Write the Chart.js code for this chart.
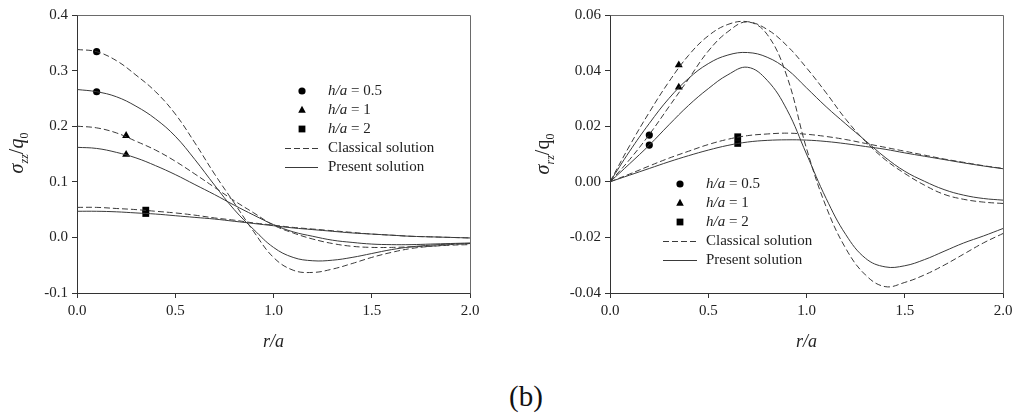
<!DOCTYPE html>
<html>
<head>
<meta charset="utf-8">
<script src="https://cdn.jsdelivr.net/npm/chart.js@4.4.1/dist/chart.umd.min.js"></script>
<style>
    body { margin: 0; width: 1018px; height: 414px; background: #fff; position: relative; overflow: hidden; }
    .panel { position: absolute; top: 0; }
    #leftPanel { left: 0; }
    #rightPanel { left: 509px; }
    #figLabel {
        position: absolute; left: 509px; top: 380px;
        font-family: "Liberation Serif", "Times New Roman", serif; font-size: 29px; color: #111;
    }
</style>
</head>
<body>
<div class="panel" id="leftPanel"><canvas id="szzChart" width="509" height="370"></canvas></div>
<div class="panel" id="rightPanel"><canvas id="srzChart" width="509" height="370"></canvas></div>
<div id="figLabel">(b)</div>

<script>
// r/a sample points shared by all curves
const rOverA = [0.0, 0.1, 0.2, 0.3, 0.4, 0.5, 0.6, 0.7, 0.8, 0.9, 1.0,
                1.1, 1.2, 1.3, 1.4, 1.5, 1.6, 1.7, 1.8, 1.9, 2.0];

// sigma_zz / q0
const szzClassical05 = [0.338, 0.334, 0.318, 0.292, 0.262, 0.222, 0.170, 0.114, 0.062, 0.010, -0.036,
                        -0.059, -0.063, -0.057, -0.047, -0.036, -0.027, -0.020, -0.016, -0.013, -0.011];
const szzPresent05   = [0.266, 0.262, 0.253, 0.236, 0.213, 0.182, 0.140, 0.094, 0.050, 0.014, -0.018,
                        -0.036, -0.042, -0.041, -0.036, -0.029, -0.022, -0.017, -0.014, -0.012, -0.011];
const szzClassical1  = [0.200, 0.197, 0.188, 0.173, 0.157, 0.137, 0.114, 0.090, 0.066, 0.044, 0.022,
                        0.008, -0.003, -0.011, -0.016, -0.018, -0.018, -0.017, -0.016, -0.014, -0.013];
const szzPresent1    = [0.162, 0.160, 0.153, 0.143, 0.129, 0.113, 0.095, 0.077, 0.058, 0.040, 0.023,
                        0.010, 0.002, -0.005, -0.009, -0.012, -0.013, -0.013, -0.012, -0.011, -0.010];
const szzClassical2  = [0.054, 0.054, 0.052, 0.050, 0.047, 0.044, 0.040, 0.035, 0.031, 0.026, 0.022,
                        0.018, 0.015, 0.012, 0.009, 0.006, 0.004, 0.002, 0.001, 0.000, -0.001];
const szzPresent2    = [0.047, 0.047, 0.046, 0.044, 0.042, 0.039, 0.036, 0.033, 0.029, 0.025, 0.021,
                        0.017, 0.014, 0.011, 0.008, 0.006, 0.004, 0.002, 0.001, 0.000, -0.001];

// sigma_rz / q0
const srzClassical05 = [0, 0.008, 0.017, 0.027, 0.037, 0.047, 0.054, 0.0575, 0.053, 0.038, 0.012,
                        -0.009, -0.024, -0.0335, -0.0377, -0.0362, -0.0335, -0.030, -0.026, -0.022, -0.0186];
const srzPresent05   = [0, 0.0065, 0.0132, 0.0205, 0.0275, 0.0335, 0.0385, 0.0412, 0.0365, 0.026, 0.010,
                        -0.006, -0.019, -0.0275, -0.0306, -0.0302, -0.028, -0.025, -0.022, -0.0195, -0.0168];
const srzClassical1  = [0, 0.013, 0.025, 0.036, 0.0455, 0.0525, 0.0566, 0.0576, 0.0548, 0.049, 0.041,
                        0.032, 0.0225, 0.0145, 0.008, 0.003, -0.0012, -0.0045, -0.0063, -0.0073, -0.0078];
const srzPresent1    = [0, 0.011, 0.021, 0.030, 0.0372, 0.0425, 0.0456, 0.0465, 0.0448, 0.0405, 0.0338,
                        0.027, 0.0208, 0.0148, 0.0088, 0.0038, 0.0002, -0.0028, -0.0048, -0.006, -0.0066];
const srzClassical2  = [0, 0.0028, 0.0057, 0.0085, 0.011, 0.0134, 0.0153, 0.0166, 0.0172, 0.0175, 0.0171,
                        0.0163, 0.0152, 0.0138, 0.0124, 0.011, 0.0096, 0.0082, 0.007, 0.0058, 0.0048];
const srzPresent2    = [0, 0.0024, 0.0048, 0.0072, 0.0094, 0.0114, 0.0131, 0.0143, 0.0149, 0.0151, 0.015,
                        0.0145, 0.0137, 0.0127, 0.0117, 0.0104, 0.0092, 0.008, 0.0068, 0.0057, 0.0047];

// one marker per curve, order h/a = 0.5, 1, 2
const szzMarkX         = [0.1, 0.25, 0.35];
const szzMarkClassical = [0.334, 0.183, 0.049];
const szzMarkPresent   = [0.262, 0.149, 0.043];
const srzMarkX         = [0.2, 0.35, 0.65];
const srzMarkClassical = [0.0168, 0.042, 0.0162];
const srzMarkPresent   = [0.0132, 0.034, 0.0138];

const hOverA = ['0.5', '1', '2'];
const markShapes = ['circle', 'triangle', 'rect'];
const markSizes = [3.6, 4.6, 4.8];

const SERIF = '"Liberation Serif", "Times New Roman", serif';
const INK = '#222';
const LINE = '#3a3a3a';

function curve(values, dashed) {
    return {
        data: rOverA.map((r, i) => ({ x: r, y: values[i] })),
        borderColor: LINE,
        borderWidth: 1,
        borderDash: dashed ? [6, 3] : [],
        pointRadius: 0,
        tension: 0.4,
        fill: false
    };
}

function markers(xs, ys) {
    return xs.map((x, i) => ({
        data: [{ x: x, y: ys[i] }],
        showLine: false,
        pointStyle: markShapes[i],
        pointRadius: markSizes[i],
        pointBackgroundColor: '#000',
        pointBorderWidth: 0
    }));
}

// draws a run of text pieces (italic / subscript) left to right
function drawRuns(ctx, runs, x, y) {
    runs.forEach(run => {
        ctx.font = (run.italic ? 'italic ' : '') + run.size + 'px ' + SERIF;
        ctx.fillText(run.t, x, y + (run.dy || 0));
        x += ctx.measureText(run.t).width;
    });
    return x;
}

function runsWidth(ctx, runs) {
    let w = 0;
    runs.forEach(run => {
        ctx.font = (run.italic ? 'italic ' : '') + run.size + 'px ' + SERIF;
        w += ctx.measureText(run.t).width;
    });
    return w;
}

function drawShape(ctx, shape, x, y) {
    ctx.beginPath();
    if (shape === 'circle') {
        ctx.arc(x, y, 3.6, 0, Math.PI * 2);
    } else if (shape === 'triangle') {
        ctx.moveTo(x, y - 4.2);
        ctx.lineTo(x + 3.8, y + 2.8);
        ctx.lineTo(x - 3.8, y + 2.8);
        ctx.closePath();
    } else {
        ctx.rect(x - 3.4, y - 3.4, 6.8, 6.8);
    }
    ctx.fill();
}

// box, rotated y title and the legend
const decorPlugin = {
    id: 'decor',
    afterDraw(chart, args, opts) {
        const ctx = chart.ctx;
        const a = chart.chartArea;
        ctx.save();

        // top and right edges of the frame
        ctx.strokeStyle = '#6a6a6a';
        ctx.lineWidth = 1;
        ctx.beginPath();
        ctx.moveTo(Math.round(a.left) + 0.5, Math.round(a.top) + 0.5);
        ctx.lineTo(Math.round(a.right) + 0.5, Math.round(a.top) + 0.5);
        ctx.lineTo(Math.round(a.right) + 0.5, Math.round(a.bottom) + 0.5);
        ctx.stroke();

        // y axis title
        ctx.fillStyle = INK;
        ctx.textBaseline = 'alphabetic';
        ctx.save();
        ctx.translate(opts.yTitle.x, opts.yTitle.y);
        ctx.rotate(-Math.PI / 2);
        const w = runsWidth(ctx, opts.yTitle.runs);
        drawRuns(ctx, opts.yTitle.runs, -w / 2, 6);
        ctx.restore();

        // legend
        const lg = opts.legend;
        ctx.textBaseline = 'middle';
        hOverA.forEach((h, i) => {
            const y = lg.rows[i];
            ctx.fillStyle = '#000';
            drawShape(ctx, markShapes[i], lg.symbolX, y);
            ctx.fillStyle = INK;
            drawRuns(ctx, [
                { t: 'h/a', italic: true, size: 15 },
                { t: ' = ' + h, size: 15 }
            ], lg.textX, y);
        });
        ['Classical solution', 'Present solution'].forEach((txt, j) => {
            const y = Math.round(lg.rows[3 + j]) + 0.5;
            ctx.strokeStyle = LINE;
            ctx.setLineDash(j === 0 ? [6, 3] : []);
            ctx.beginPath();
            ctx.moveTo(lg.lineX0, y);
            ctx.lineTo(lg.lineX1, y);
            ctx.stroke();
            ctx.setLineDash([]);
            ctx.fillStyle = INK;
            ctx.font = '15px ' + SERIF;
            ctx.fillText(txt, lg.textX, lg.rows[3 + j]);
        });
        ctx.restore();
    }
};

function makePanel(cfg) {
    const ctx = document.getElementById(cfg.canvas).getContext('2d');
    const s = cfg.series;
    const datasets = [
        curve(s[0], true), curve(s[1], false),
        curve(s[2], true), curve(s[3], false),
        curve(s[4], true), curve(s[5], false)
    ].concat(markers(cfg.markX, cfg.markC), markers(cfg.markX, cfg.markP));

    new Chart(ctx, {
        type: 'line',
        data: { datasets: datasets },
        options: {
            responsive: false,
            animation: false,
            events: [],
            layout: { padding: { left: 0, top: 15, right: cfg.padRight, bottom: 0 } },
            plugins: {
                legend: { display: false },
                tooltip: { enabled: false },
                decor: { yTitle: cfg.yTitle, legend: cfg.legend }
            },
            scales: {
                x: {
                    type: 'linear',
                    min: 0, max: 2,
                    afterFit: scale => { scale.height = 77; },
                    ticks: {
                        stepSize: 0.5,
                        padding: 4,
                        color: INK,
                        font: { family: SERIF, size: 15 },
                        callback: v => v.toFixed(1)
                    },
                    grid: { drawOnChartArea: false, drawTicks: true, tickLength: 5, color: '#333' },
                    border: { display: true, color: '#333' },
                    title: {
                        display: true,
                        text: 'r/a',
                        color: INK,
                        font: { family: SERIF, size: 18, style: 'italic' },
                        padding: { top: 0, bottom: 17 }
                    }
                },
                y: {
                    min: cfg.yMin, max: cfg.yMax,
                    afterFit: scale => { scale.width = cfg.yWidth; },
                    ticks: {
                        stepSize: cfg.yStep,
                        padding: 4,
                        color: INK,
                        font: { family: SERIF, size: 15 },
                        callback: v => v.toFixed(cfg.yDigits)
                    },
                    grid: { drawOnChartArea: false, drawTicks: true, tickLength: 5, color: '#333' },
                    border: { display: true, color: '#333' }
                }
            }
        },
        plugins: [decorPlugin]
    });
}

makePanel({
    canvas: 'szzChart',
    series: [szzClassical05, szzPresent05, szzClassical1, szzPresent1, szzClassical2, szzPresent2],
    markX: szzMarkX, markC: szzMarkClassical, markP: szzMarkPresent,
    yMin: -0.1, yMax: 0.4, yStep: 0.1, yDigits: 1,
    yWidth: 77, padRight: 39,
    yTitle: {
        x: 17, y: 153,
        runs: [
            { t: 'σ', italic: true, size: 20 },
            { t: 'zz', italic: true, size: 12, dy: 5 },
            { t: '/', size: 20 },
            { t: 'q', italic: true, size: 20 },
            { t: '0', size: 12, dy: 5 }
        ]
    },
    legend: { symbolX: 302, textX: 328, lineX0: 285, lineX1: 318, rows: [91, 110, 129, 148, 167] }
});

makePanel({
    canvas: 'srzChart',
    series: [srzClassical05, srzPresent05, srzClassical1, srzPresent1, srzClassical2, srzPresent2],
    markX: srzMarkX, markC: srzMarkClassical, markP: srzMarkPresent,
    yMin: -0.04, yMax: 0.06, yStep: 0.02, yDigits: 2,
    yWidth: 101, padRight: 15,
    yTitle: {
        x: 34, y: 154,
        runs: [
            { t: 'σ', italic: true, size: 20 },
            { t: 'rz', italic: true, size: 12, dy: 5 },
            { t: '/q', size: 20 },
            { t: '0', size: 12, dy: 5 }
        ]
    },
    legend: { symbolX: 171, textX: 197, lineX0: 154, lineX1: 188, rows: [184, 203, 222, 241, 260] }
});
</script>
</body>
</html>
